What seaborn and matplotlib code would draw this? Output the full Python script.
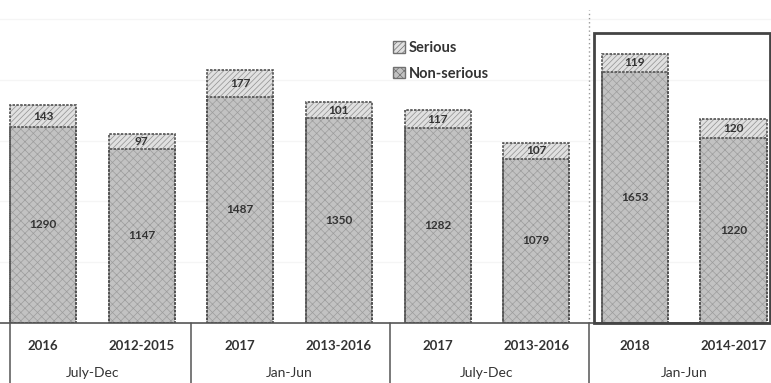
import numpy as np
import pandas as pd
from matplotlib import pyplot as plt
from matplotlib.patches import Rectangle, Patch
import seaborn as sns

# data
skupiny = ["July-Dec", "July-Dec", "Jan-Jun", "Jan-Jun",
           "July-Dec", "July-Dec", "Jan-Jun", "Jan-Jun"]
obdobi = ["2016", "2012-2015", "2017", "2013-2016",
          "2017", "2013-2016", "2018", "2014-2017"]
non_serious = [1290, 1147, 1487, 1350, 1282, 1079, 1653, 1220]
serious = [143, 97, 177, 101, 117, 107, 119, 120]

df = pd.DataFrame({"skupina": skupiny, "obdobi": obdobi,
                   "non_serious": non_serious, "serious": serious})
df["klic"] = [f"{i}_{o}" for i, o in enumerate(df["obdobi"])]
df["celkem"] = df["non_serious"] + df["serious"]

sns.set_style("white")
plt.rcParams["font.family"] = ["Lato", "DejaVu Sans"]
plt.rcParams["hatch.linewidth"] = 0.5

fig = plt.figure(figsize=(7.71, 3.83), dpi=100)
ax = fig.add_axes([0, 60/383, 1, 323/383])

sirka = 0.67
okraj = dict(linewidth=1.2, linestyle=(0, (1.5, 0.8)))
# vyplne (serious nahore, non-serious pres ni); barva srafovani = edgecolor
sns.barplot(data=df, x="klic", y="celkem", order=df["klic"], width=sirka,
            color="#e0e0e0", edgecolor="#909090", linewidth=0,
            hatch="//////", saturation=1, ax=ax)
sns.barplot(data=df, x="klic", y="non_serious", order=df["klic"], width=sirka,
            color="#c2c2c2", edgecolor="#9c9c9c", linewidth=0,
            hatch="xxxx", saturation=1, ax=ax)
# obrysy
sns.barplot(data=df, x="klic", y="celkem", order=df["klic"], width=sirka,
            fill=False, color="#505050", saturation=1, ax=ax, **okraj)
sns.barplot(data=df, x="klic", y="non_serious", order=df["klic"], width=sirka,
            fill=False, color="#505050", saturation=1, ax=ax, **okraj)

# popisky hodnot
for i, r in df.iterrows():
    ax.text(i, r["non_serious"] / 2, str(r["non_serious"]), ha="center",
            va="center", fontsize=8.5, fontweight="bold", color="#333333")
    ax.text(i, r["non_serious"] + r["serious"] / 2, str(r["serious"]),
            ha="center", va="center", fontsize=8.5, fontweight="bold",
            color="#333333")

ax.set_xlim(-0.436, 7.38)
ax.set_ylim(0, 2125)
for v in range(400, 2001, 400):
    ax.axhline(v, color="#f5f5f5", lw=1, zorder=0)

ax.set_xticks(range(len(df)))
ax.set_xticklabels(df["obdobi"], fontsize=9.5, fontweight="bold", color="#333333")
ax.tick_params(axis="x", length=0, pad=12)
ax.set_yticks([])
ax.set_xlabel("")
ax.set_ylabel("")
for s in ["top", "right", "left"]:
    ax.spines[s].set_visible(False)
ax.spines["bottom"].set_color("#555555")
ax.spines["bottom"].set_linewidth(1.2)

# skupiny pod osou
trans = ax.get_xaxis_transform()
for k in range(0, len(df), 2):
    ax.text(k + 0.5, -0.155, df["skupina"][k], transform=trans, ha="center",
            va="center", fontsize=10, color="#333333")
for xs in [-0.33, 1.5, 3.52, 5.53]:
    ax.plot([xs, xs], [-0.19, 0], transform=trans, color="#555555",
            lw=1.1, clip_on=False)
ax.plot([5.53, 5.53], [0, 0.97], transform=trans, color="#999999",
        lw=1, ls=(0, (1, 2)), clip_on=False)

# ramecek kolem 2018
ax.add_patch(Rectangle((5.59, 0), 1.78, 1908, fill=False, ec="#444444",
                       lw=2, clip_on=False, zorder=5))

handles = [Patch(facecolor="#e0e0e0", edgecolor="#707070", hatch="//////"),
           Patch(facecolor="#c2c2c2", edgecolor="#707070", hatch="xxxx")]
ax.legend(handles, ["Serious", "Non-serious"], loc="upper left",
          bbox_to_anchor=(380/771, 1 - 28/323), frameon=False,
          prop={"weight": "bold", "size": 10.5}, handlelength=0.8,
          handleheight=0.8, handletextpad=0.3, labelspacing=0.8,
          labelcolor="#333333")

fig.savefig("out.png", dpi=100)
